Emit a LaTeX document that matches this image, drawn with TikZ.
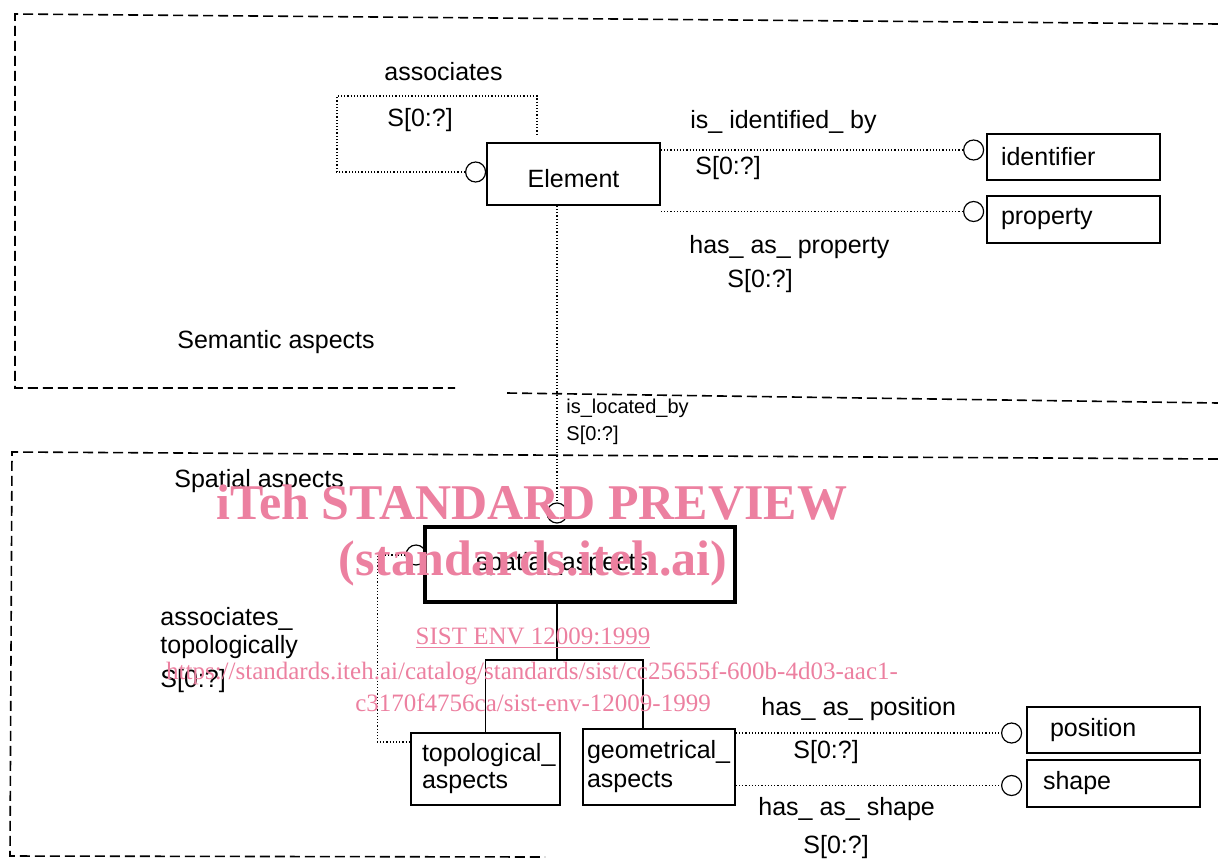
\documentclass[tikz,border=0pt]{standalone}
\usepackage{fontspec}
\setmainfont{Liberation Sans}
\newfontfamily\wmfont{Liberation Serif}
\usetikzlibrary{positioning}
\definecolor{wmpink}{RGB}{236,128,160}

\tikzset{
  entity/.style={draw, line width=0.8pt, minimum width=86.5pt, minimum height=23pt, inner sep=0pt, font=\fontsize{12.5}{15}\selectfont},
  ring/.style={draw, circle, minimum size=10pt, inner sep=0pt, line width=0.6pt},
  link/.style={densely dotted, line width=0.6pt},
  tree/.style={line width=0.6pt},
  frame/.style={dash pattern=on 5pt off 2.5pt, line width=0.8pt},
  lbl/.style={anchor=west, inner sep=0pt, font=\fontsize{12.5}{15}\selectfont},
  smalllbl/.style={anchor=west, inner sep=0pt, font=\fontsize{10}{12}\selectfont},
  wm/.style={text=wmpink, inner sep=0pt, font=\wmfont\fontsize{12.5}{15}\selectfont},
  wmbig/.style={wm, font=\wmfont\bfseries\fontsize{25}{30}\selectfont}
}

\begin{document}
\begin{tikzpicture}[x=0.5pt, y=-0.5pt]
	\useasboundingbox (0,0) rectangle (1218,862);
	% Frames:
	\draw[frame] (1218,24) -- (15,14) -- (15,388) -- (455,388);
	\draw[frame] (507,393) -- (1218,403);
	\draw[frame] (1218,459) -- (12,452) -- (10,856) -- (545,857);
	% Entities:
	\node[entity, minimum height=31pt, text height=16pt, text depth=2.6pt] (element) at (573.5,174) {Element};
	\node[entity, text width=72.5pt, align=left] (identifier) at (1073.5,157) {identifier};
	\node[entity, text width=72.5pt, align=left, minimum height=23.5pt] (property) at (1073.5,219.5) {property};
	\node[entity, line width=1.6pt, minimum width=155pt, minimum height=37.5pt] (spatial) at (580,564.5) {spatial\_aspects\rule{18pt}{0pt}};
	\node[entity, minimum width=74.5pt, minimum height=36pt, text width=63.5pt, align=left, font=\fontsize{12.5}{13.5}\selectfont] (topo) at (485.5,769) {topological\_\\aspects};
	\node[entity, minimum width=76pt, minimum height=38pt, text width=72pt, align=left, font=\fontsize{12.5}{14.5}\selectfont] (geom) at (659,767) {geometrical\_\\aspects};
	\node[entity, text width=63.5pt, align=left] (position) at (1113.5,730) {position};
	\node[entity, text width=70.5pt, align=left, minimum height=23.5pt] (shape) at (1113.5,783.5) {shape};
	% Circles:
	\node[ring, left=0pt of element, yshift=1pt] (assocEnd) {};
	\node[ring, left=1pt of identifier, yshift=3.5pt] (identEnd) {};
	\node[ring, left=1pt of property, yshift=4pt] (propEnd) {};
	\node[ring] (locEnd) at (557,513) {};
	\node[ring] (topoEnd) at (416,555) {};
	\node[ring, left=2pt of position, yshift=-1.5pt] (posEnd) {};
	\node[ring, left=2pt of shape, yshift=-1pt] (shapeEnd) {};
	\coordinate (assocTop) at (537,135);
	\coordinate (fork) at (557,660);
	% Connectors:
	\draw[link] (assocEnd.west) -- ++(-128,0) -- ++(0,-76) -| (assocTop);
	\draw[link] (identEnd.west -| element.east) -- (identEnd.west);
	\draw[link] (propEnd.west -| element.east) -- (propEnd.west);
	\draw[link] (locEnd |- element.south) -- (locEnd.north);
	\draw[link] (topoEnd.west) -- ++(-28,0) |- ([yshift=13.5pt]topo.west);
	\draw[tree] (fork |- spatial.south) -- (fork);
	\draw[tree] (topo.north) |- (fork) -| ([xshift=-8pt]geom.north);
	\draw[link] (posEnd.west -| geom.east) -- (posEnd.west);
	\draw[link] (shapeEnd.west -| geom.east) -- (shapeEnd.west);
	% Labels:
	\node[lbl] (assocLbl) at (384,72) {associates};
	\node[lbl] (assocCard) at (387,120) {S[0:?]};
	\node[lbl] (identLbl) at (690,122) {is\_ identified\_ by};
	\node[lbl] (identCard) at (695,168) {S[0:?]};
	\node[lbl] (propLbl) at (689,247) {has\_ as\_ property};
	\node[lbl] (propCard) at (727,281) {S[0:?]};
	\node[lbl] (semantic) at (177,342) {Semantic aspects};
	\node[smalllbl] (locLbl) at (566,408) {is\_located\_by};
	\node[smalllbl] (locCard) at (566,435) {S[0:?]};
	\node[lbl] (spatialLbl) at (174,481) {Spatial aspects};
	\node[lbl] (topoLbl1) at (160,619) {associates\_};
	\node[lbl] (topoLbl2) at (160,647) {topologically};
	\node[lbl] (topoCard) at (160,681) {S[0:?]};
	\node[lbl] (posLbl) at (761,709) {has\_ as\_ position};
	\node[lbl] (posCard) at (793,752) {S[0:?]};
	\node[lbl] (shapeLbl) at (758,809) {has\_ as\_ shape};
	\node[lbl] (shapeCard) at (803,847) {S[0:?]};
	% Watermark:
	\node[wmbig] (wm1) at (532,503) {iTeh STANDARD PREVIEW};
	\node[wmbig] (wm2) at (533,563) {(standards.iteh.ai)};
	\node[wm] (wm3) at (533,638) {\underline{SIST ENV 12009:1999}};
	\node[wm] (wm4) at (532,673) {https://standards.iteh.ai/catalog/standards/sist/cc25655f-600b-4d03-aac1-};
	\node[wm] (wm5) at (533,703) {c3170f4756ca/sist-env-12009-1999};
\end{tikzpicture}
\end{document}
